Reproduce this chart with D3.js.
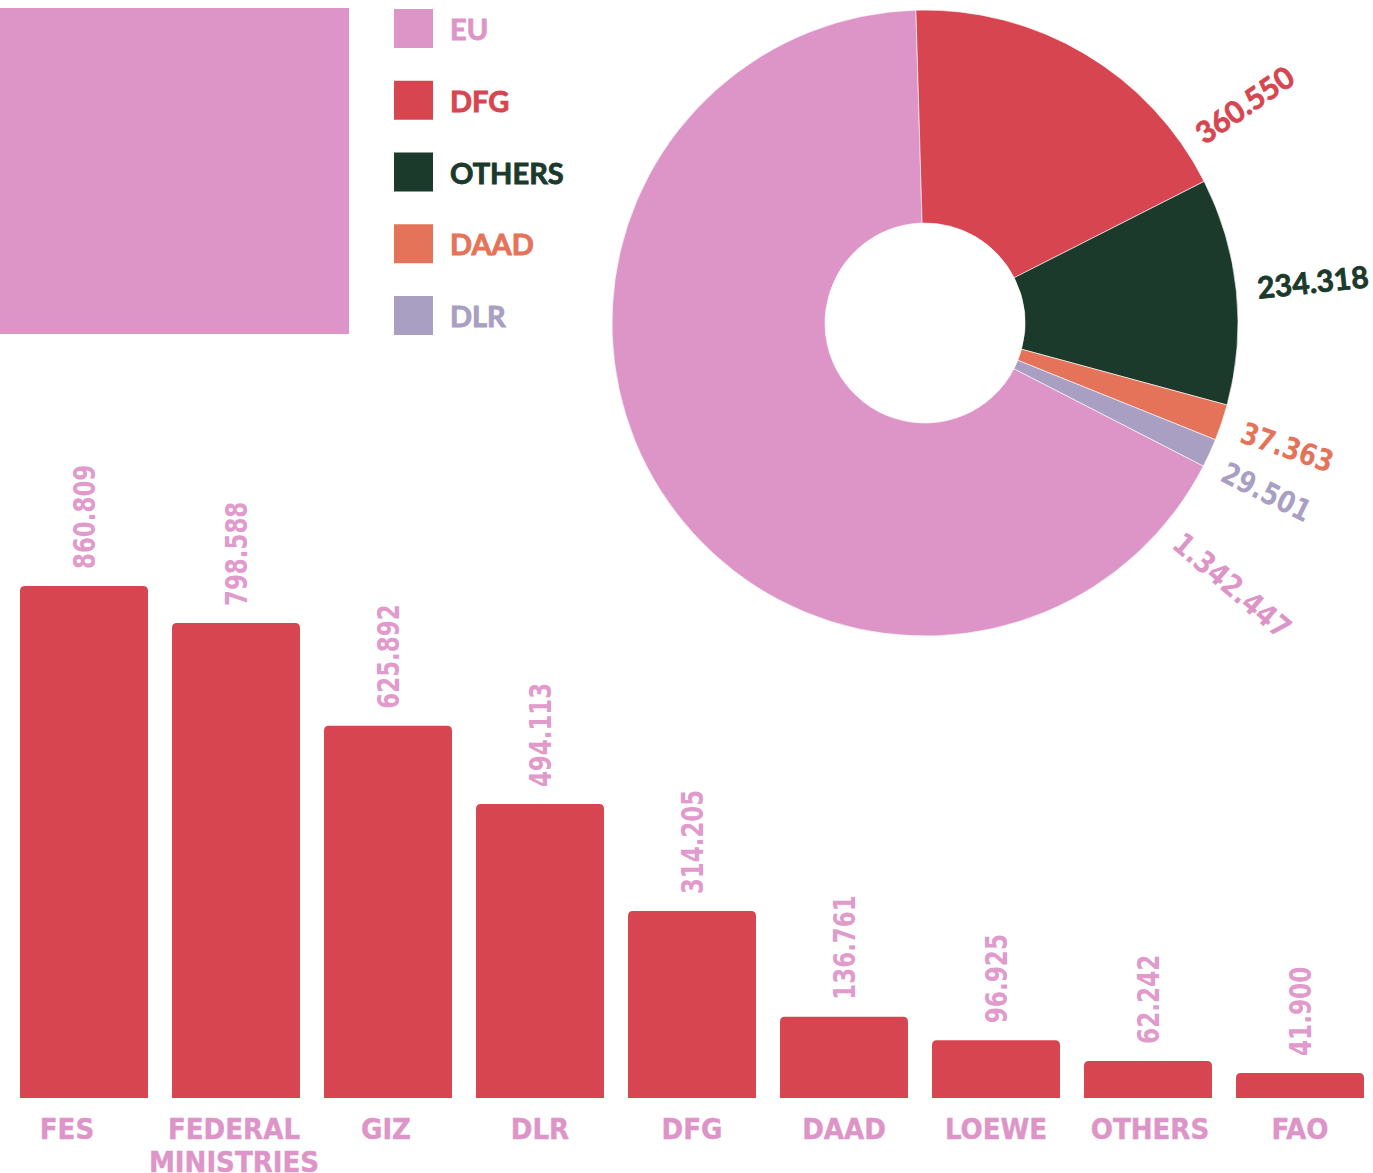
<!DOCTYPE html>
<html>
<head>
<meta charset="utf-8">
<script src="https://cdn.jsdelivr.net/npm/d3@7"></script>
<style>
  html, body { margin: 0; padding: 0; background: #fff; }
  svg { display: block; }
</style>
</head>
<body>
<div id="chart"></div>
<script>
// pie data
const pieCategories = ['EU', 'DFG', 'OTHERS', 'DAAD', 'DLR'];
const pieValues = [1342447, 360550, 234318, 37363, 29501];
const pieColors = ['#dd95c8', '#d74550', '#1b3a2b', '#e5735a', '#a99fc3'];

// bar data
const barCategories = ['FES', 'FEDERAL MINISTRIES', 'GIZ', 'DLR', 'DFG', 'DAAD', 'LOEWE', 'OTHERS', 'FAO'];
const barValues = [860809, 798588, 625892, 494113, 314205, 136761, 96925, 62242, 41900];

// layout of the pie labels (degrees clockwise from top, radius in px)
const pieLabelAngles = [130.5, 55.7, 84, 108.9, 116.3];
const pieLabelRadius = [404, 387, 390, 383, 381];
const pieLabelNarrow = [true, false, false, true, true];
// horizontal nudge of the category labels
const catLabelDx = [-17, -2, -2, 0, 0, 0, 0, 2, 0];

const width = 1373;
const height = 1173;
const pink = '#dd95c8';
const red = '#d74550';
const numFont = '"DejaVu Sans", sans-serif';

const locale = d3.formatLocale({decimal: ',', thousands: '.', grouping: [3], currency: ['', '']});
const fmt = locale.format(',d');

const svg = d3.select('#chart')
  .append('svg')
  .attr('width', width)
  .attr('height', height);

// big pink block top left
svg.append('rect')
  .attr('x', 0)
  .attr('y', 8)
  .attr('width', 349)
  .attr('height', 326)
  .attr('fill', pink);

// legend
const legendY = d3.scalePoint().domain(pieCategories).range([9, 296]);
const legend = svg.selectAll('g.legend')
  .data(pieCategories)
  .enter()
  .append('g')
  .attr('class', 'legend')
  .attr('transform', d => `translate(394,${legendY(d)})`);

legend.append('rect')
  .attr('width', 39)
  .attr('height', 39)
  .attr('fill', (d, i) => pieColors[i]);

legend.append('text')
  .attr('x', 56)
  .attr('y', 31)
  .attr('fill', (d, i) => pieColors[i])
  .attr('stroke', (d, i) => pieColors[i])
  .attr('stroke-width', 0.9)
  .style('font-family', 'Lato, "Noto Sans", sans-serif')
  .style('font-weight', 700)
  .style('font-size', '29px')
  .text(d => d);

// donut
const cx = 925, cy = 323;
const rad = Math.PI / 180;
const pie = d3.pie()
  .sort(null)
  .startAngle(117.2 * rad)
  .endAngle(117.2 * rad + 2 * Math.PI);
const arc = d3.arc().innerRadius(100).outerRadius(313);

const pieG = svg.append('g').attr('transform', `translate(${cx},${cy})`);
const arcs = pie(pieValues);

pieG.selectAll('path')
  .data(arcs)
  .enter()
  .append('path')
  .attr('d', arc)
  .attr('fill', (d, i) => pieColors[i])
  .attr('stroke', '#fff')
  .attr('stroke-width', 0.6);

pieG.selectAll('text')
  .data(arcs)
  .enter()
  .append('text')
  .attr('transform', (d, i) => {
    const a = pieLabelAngles[i] * rad;
    const r = pieLabelRadius[i];
    const x = Math.sin(a) * r;
    const y = -Math.cos(a) * r;
    return `translate(${x},${y}) rotate(${pieLabelAngles[i] - 90})`;
  })
  .attr('text-anchor', 'middle')
  .attr('dy', '0.36em')
  .attr('fill', (d, i) => pieColors[i])
  .attr('stroke', (d, i) => pieColors[i])
  .attr('stroke-width', (d, i) => pieLabelNarrow[i] ? 0 : 0.8)
  .style('font-family', (d, i) => pieLabelNarrow[i] ? numFont : 'Lato, "Noto Sans", sans-serif')
  .style('font-weight', 700)
  .style('font-size', '30px')
  .each(function (d, i) {
    const t = fmt(d.value);
    const el = d3.select(this).text(t);
    if (pieLabelNarrow[i]) {
      el.attr('textLength', t.length * 16).attr('lengthAdjust', 'spacingAndGlyphs');
    }
  });

// bars
const baseline = 1098;
const x = d3.scaleBand()
  .domain(barCategories)
  .range([20, 1364])
  .paddingInner(24 / 152)
  .paddingOuter(0);

const y = d3.scaleLinear()
  .domain([0, d3.max(barValues)])
  .range([baseline, 586]);

function topRounded(x0, y0, w, h, r) {
  r = Math.min(r, h);
  return `M${x0},${y0 + h}V${y0 + r}Q${x0},${y0} ${x0 + r},${y0}H${x0 + w - r}Q${x0 + w},${y0} ${x0 + w},${y0 + r}V${y0 + h}Z`;
}

const bars = svg.append('g');
bars.selectAll('path')
  .data(barCategories)
  .enter()
  .append('path')
  .attr('d', (d, i) => topRounded(x(d), y(barValues[i]), x.bandwidth(), baseline - y(barValues[i]), 5))
  .attr('fill', red);

// value labels above bars
bars.selectAll('text.value')
  .data(barCategories)
  .enter()
  .append('text')
  .attr('class', 'value')
  .attr('transform', (d, i) => `translate(${x(d) + x.bandwidth() / 2 + 11},${y(barValues[i]) - 17}) rotate(-90)`)
  .attr('fill', '#e09acb')
  .style('font-family', numFont)
  .style('font-weight', 700)
  .style('font-size', '30px')
  .each(function (d, i) {
    const t = fmt(barValues[i]);
    d3.select(this).text(t)
      .attr('textLength', t.length * 14.9)
      .attr('lengthAdjust', 'spacingAndGlyphs');
  });

// category labels
const cats = bars.selectAll('text.cat')
  .data(barCategories)
  .enter()
  .append('text')
  .attr('class', 'cat')
  .attr('y', 1139)
  .attr('text-anchor', 'middle')
  .attr('fill', pink)
  .attr('stroke', pink)
  .attr('stroke-width', 0.4)
  .style('font-family', '"Liberation Sans Narrow", "DejaVu Sans Condensed", sans-serif')
  .style('font-weight', 700)
  .style('font-size', '29px');

cats.each(function (d, i) {
  const words = d.split(' ');
  const el = d3.select(this);
  words.forEach((w, k) => {
    el.append('tspan')
      .attr('x', x(d) + x.bandwidth() / 2 + catLabelDx[i])
      .attr('dy', k === 0 ? 0 : 33)
      .text(w);
  });
});
</script>
</body>
</html>
